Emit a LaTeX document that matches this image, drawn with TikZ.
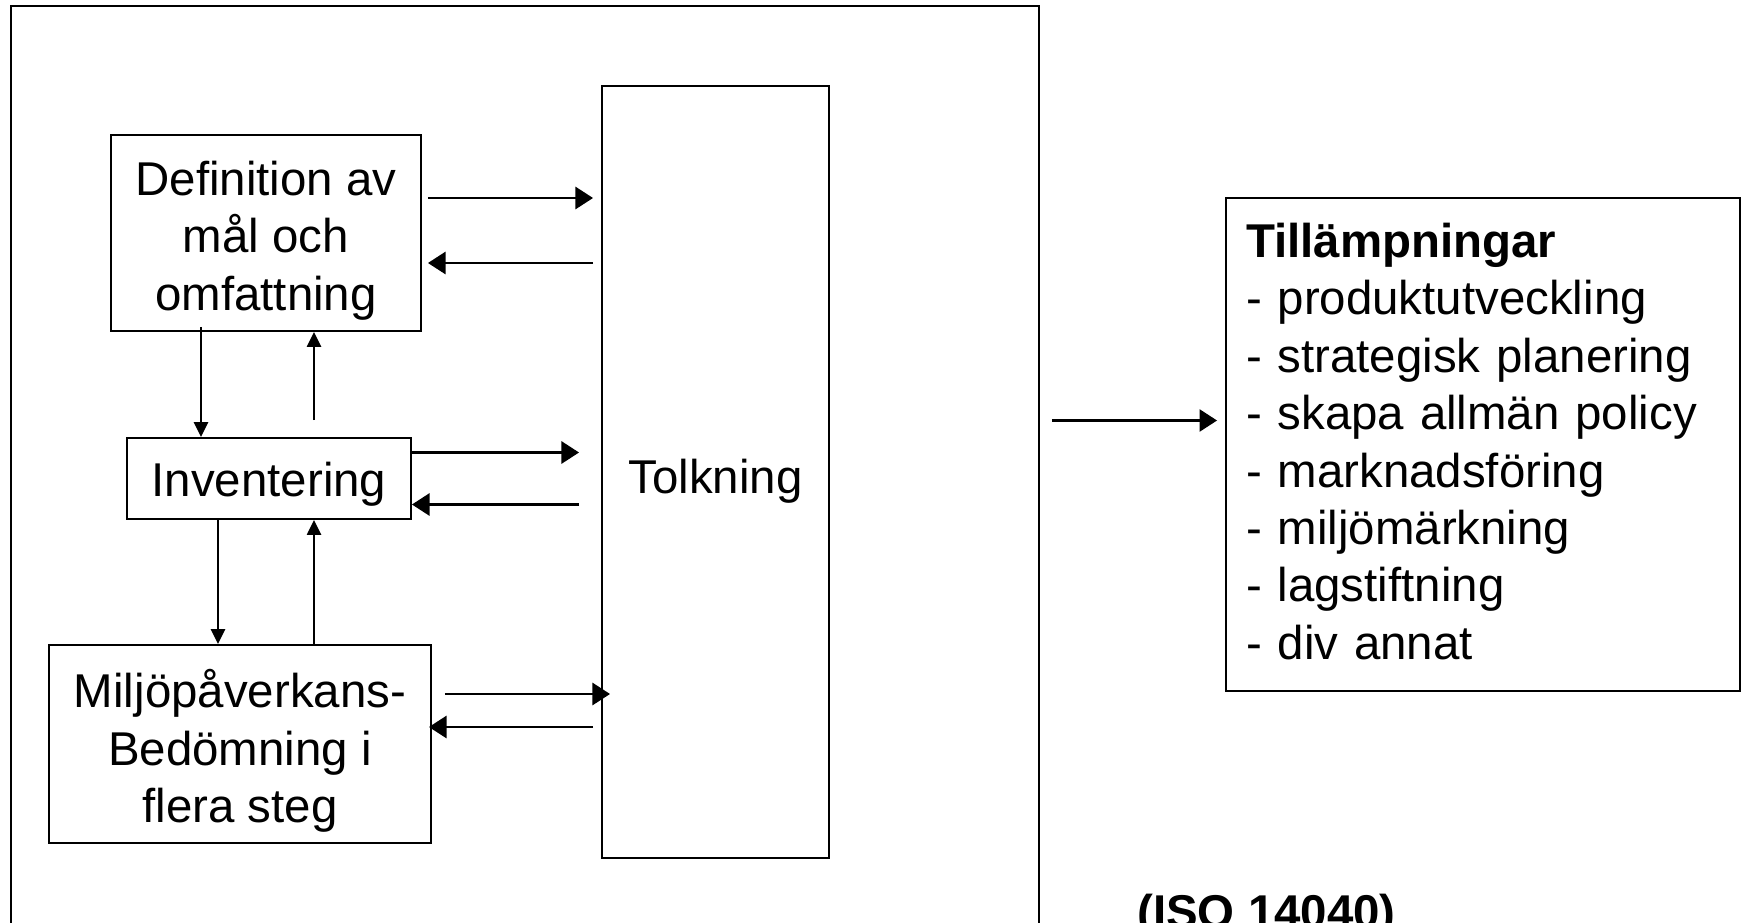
\documentclass[tikz,border=0pt]{standalone}
\usepackage{fontspec}
\setmainfont{Liberation Sans}
\usetikzlibrary{positioning, arrows.meta}

\begin{document}
\begin{tikzpicture}[
  x=0.02cm, y=-0.02cm,
  box/.style={rectangle, draw, line width=1.1pt, align=center, inner sep=0pt, font=\fontsize{27}{32.7}\selectfont},
  listbox/.style={box, align=left, inner xsep=0.4cm, text width=9.48cm},
  pad/.style 2 args={execute at begin node={\rule{0pt}{#1}}, execute at end node={\rule[-#2]{0pt}{0pt}}},
  harr/.style={-{Triangle[length=10pt, width=12.5pt]}, line width=1.6pt},
  varr/.style={-{Triangle[length=8.5pt, width=8pt]}, line width=1.2pt},
  note/.style={font=\fontsize{27}{32.7}\selectfont\bfseries, inner sep=0pt}
]
\useasboundingbox (0,0) rectangle (1748,923);
\fill[white] (0,0) rectangle (1748,923);

% outer frame and the four phases
\node[box, minimum width=20.56cm, minimum height=19.08cm] (frame) at (525,483) {};
\node[box, minimum width=6.2cm, minimum height=3.92cm] (def) at (266,233) {\rule{0pt}{28.2pt}Definition av\\mål och\\omfattning};
\node[box, pad={26.4pt}{6pt}, minimum width=5.68cm, minimum height=1.62cm] (inv) at (269,478.5) {Inventering};
\node[box, minimum width=7.64cm, minimum height=3.96cm] (mil) at (240,744) {\rule{0pt}{30pt}Miljöpåverkans-\\Bedömning i\\flera steg};
\node[box, pad={29.9pt}{6pt}, minimum width=4.54cm, minimum height=15.44cm] (tolk) at (715.5,472) {Tolkning};

% applications
\node[listbox, pad={20pt}{4.3pt}, minimum height=9.86cm] (till) at (1483,444.5) {\textbf{Tillämpningar}\\- produktutveckling\\- strategisk planering\\- skapa allmän policy\\- marknadsföring\\- miljömärkning\\- lagstiftning\\- div annat};
\node[note, anchor=base west] (iso) at (1137,928) {(ISO 14040)};

% phases <-> Tolkning
\draw[harr] ([shift={(6,-35)}]def.east) -- ([shift={(-8,-35)}]tolk.west |- def.east);
\draw[harr] ([shift={(-8,30)}]tolk.west |- def.east) -- ([shift={(6,30)}]def.east);
\draw[harr] ([shift={(0,-26)}]inv.east) -- ([shift={(-22,-26)}]tolk.west |- inv.east);
\draw[harr] ([shift={(-22,26)}]tolk.west |- inv.east) -- ([shift={(0,26)}]inv.east);
\draw[harr] ([shift={(13,-50)}]mil.east) -- ([shift={(9,-50)}]tolk.west |- mil.east);
\draw[harr] ([shift={(-8,-17)}]tolk.west |- mil.east) -- ([shift={(-3,-17)}]mil.east);

% between the phases
\draw[varr] ([shift={(-65,-5)}]def.south) -- ([shift={(-65,0)}]def.south |- inv.north);
\draw[varr] ([shift={(48,-17)}]def.south |- inv.north) -- ([shift={(48,0)}]def.south);
\draw[varr] ([shift={(-51,0)}]inv.south) -- ([shift={(-51,0)}]inv.south |- mil.north);
\draw[varr] ([shift={(45,0)}]inv.south |- mil.north) -- ([shift={(45,0)}]inv.south);

% out to the applications
\draw[harr] ([shift={(12,-24)}]frame.east |- till.west) -- ([shift={(-8,-24)}]till.west);
\end{tikzpicture}
\end{document}
